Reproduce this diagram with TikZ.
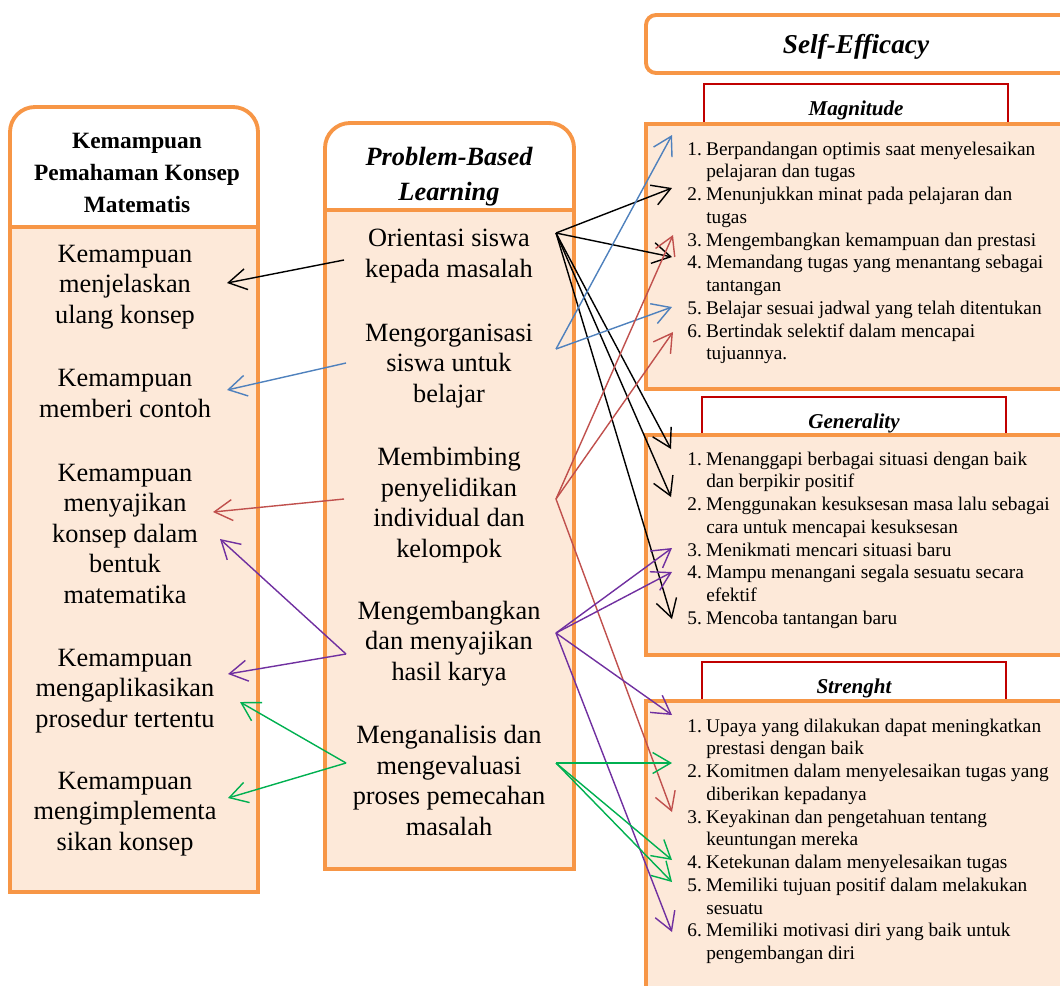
\documentclass[tikz,border=0pt]{standalone}
\usepackage{fontspec}
\setmainfont{Liberation Serif}
\usetikzlibrary{arrows.meta}
\definecolor{boxorange}{HTML}{F79646}
\definecolor{boxfill}{HTML}{FDE9D9}
\definecolor{boxred}{HTML}{C00000}
\definecolor{arrblue}{HTML}{4F81BD}
\definecolor{arrred}{HTML}{C0504D}
\definecolor{arrpurple}{HTML}{7030A0}
\definecolor{arrgreen}{HTML}{00B050}
\begin{document}
\begin{tikzpicture}[x=0.02cm, y=-0.02cm,
    frame/.style={draw=boxorange, line width=2.2pt},
    colitem/.style={align=center, anchor=base, inner sep=0pt, font=\fontsize{15}{17.3}\selectfont},
    listbox/.style={anchor=base west, inner sep=0pt, font=\fontsize{11}{12.95}\selectfont},
    dimbox/.style={draw=boxred, fill=white, line width=1.6pt},
    dimlabel/.style={anchor=base, inner sep=0pt, font=\fontsize{12}{14}\selectfont\bfseries\itshape},
    conn/.style={-{Straight Barb[length=0.36cm, width=0.42cm]}, line width=0.8pt}]
    \useasboundingbox (0,0) rectangle (1060,985);
    \clip (0,0) rectangle (1060,985);
    % left column (nodes sit on their last baseline)
    \fill[boxfill] (10,227) rectangle (258,892);
    \draw[frame] (10,892) [rounded corners=0.5cm] -- (10,107) -- (258,107) [sharp corners] -- (258,892) -- cycle;
    \draw[frame] (10,227) -- (258,227);
    \node[colitem, font=\fontsize{13.3}{18.1}\selectfont\bfseries] (khead) at (137,212) {Kemampuan\\Pemahaman Konsep\\Matematis};
    \node[colitem] (k1) at (125,323) {Kemampuan\\menjelaskan\\ulang konsep};
    \node[colitem] (k2) at (125,417) {Kemampuan\\memberi contoh};
    \node[colitem] (k3) at (125,603) {Kemampuan\\menyajikan\\konsep dalam\\bentuk\\matematika};
    \node[colitem] (k4) at (125,727) {Kemampuan\\mengaplikasikan\\prosedur tertentu};
    \node[colitem] (k5) at (125,850) {Kemampuan\\mengimplementa\\sikan konsep};
    % middle column
    \fill[boxfill] (325,210) rectangle (574,869);
    \draw[frame] (325,869) [rounded corners=0.5cm] -- (325,123) -- (574,123) [sharp corners] -- (574,869) -- cycle;
    \draw[frame] (325,210) -- (574,210);
    \node[colitem, font=\fontsize{15}{19.8}\selectfont\bfseries\itshape] (phead) at (449,200) {Problem-Based\\Learning};
    \node[colitem] (p1) at (449,277) {Orientasi siswa\\kepada masalah};
    \node[colitem] (p2) at (449,402) {Mengorganisasi\\siswa untuk\\belajar};
    \node[colitem] (p3) at (449,557) {Membimbing\\penyelidikan\\individual dan\\kelompok};
    \node[colitem] (p4) at (449,680) {Mengembangkan\\dan menyajikan\\hasil karya};
    \node[colitem] (p5) at (449,835) {Menganalisis dan\\mengevaluasi\\proses pemecahan\\masalah};
    % self-efficacy column
    \draw[frame, fill=white, rounded corners=0.2cm] (646,15) rectangle (1080,73);
    \node[dimlabel, font=\fontsize{15.5}{18}\selectfont\bfseries\itshape] (shead) at (856,53) {Self-Efficacy};
    \draw[dimbox] (704,84) rectangle (1008,130);
    \node[dimlabel] (mag) at (856,115) {Magnitude};
    \draw[frame, fill=boxfill] (646,124) rectangle (1080,389);
    \draw[dimbox] (702,397) rectangle (1006,440);
    \node[dimlabel] (gen) at (854,428) {Generality};
    \draw[frame, fill=boxfill] (646,435) rectangle (1080,655);
    \draw[dimbox] (702,662) rectangle (1006,706);
    \node[dimlabel] (str) at (854,693) {Strenght};
    \draw[frame, fill=boxfill] (646,701) rectangle (1080,1000);
    \node[listbox] (maglist) at (687,155) {\begin{tabular}[t]{@{}r@{\hspace{2.5pt}}l@{}}
        1. & Berpandangan optimis saat menyelesaikan\\
           & pelajaran dan tugas\\
        2. & Menunjukkan minat pada pelajaran dan\\
           & tugas\\
        3. & Mengembangkan kemampuan dan prestasi\\
        4. & Memandang tugas yang menantang sebagai\\
           & tantangan\\
        5. & Belajar sesuai jadwal yang telah ditentukan\\
        6. & Bertindak selektif dalam mencapai\\
           & tujuannya.
    \end{tabular}};
    \node[listbox] (genlist) at (687,465) {\begin{tabular}[t]{@{}r@{\hspace{2.5pt}}l@{}}
        1. & Menanggapi berbagai situasi dengan baik\\
           & dan berpikir positif\\
        2. & Menggunakan kesuksesan masa lalu sebagai\\
           & cara untuk mencapai kesuksesan\\
        3. & Menikmati mencari situasi baru\\
        4. & Mampu menangani segala sesuatu secara\\
           & efektif\\
        5. & Mencoba tantangan baru
    \end{tabular}};
    \node[listbox] (strlist) at (687,732) {\begin{tabular}[t]{@{}r@{\hspace{2.5pt}}l@{}}
        1. & Upaya yang dilakukan dapat meningkatkan\\
           & prestasi dengan baik\\
        2. & Komitmen dalam menyelesaikan tugas yang\\
           & diberikan kepadanya\\
        3. & Keyakinan dan pengetahuan tentang\\
           & keuntungan mereka\\
        4. & Ketekunan dalam menyelesaikan tugas\\
        5. & Memiliki tujuan positif dalam melakukan\\
           & sesuatu\\
        6. & Memiliki motivasi diri yang baik untuk\\
           & pengembangan diri
    \end{tabular}};
    % arrow ends
    \coordinate (p1w) at (344,260);
    \coordinate (p2w) at (346,363);
    \coordinate (p3w) at (344,499);
    \coordinate (p4w) at (346,654);
    \coordinate (p5w) at (346,763);
    \coordinate (p1e) at (556,233);
    \coordinate (p2e) at (556,349);
    \coordinate (p3e) at (556,499);
    \coordinate (p4e) at (556,633);
    \coordinate (p5e) at (556,763);
    \coordinate (k1t) at (227,283);
    \coordinate (k2t) at (227,390);
    \coordinate (k3t) at (213,512);
    \coordinate (k3s) at (220,539);
    \coordinate (k4t) at (228,674);
    \coordinate (k4s) at (240,702);
    \coordinate (k5t) at (228,798);
    \coordinate (ma1) at (672,135);
    \coordinate (ma2) at (672,188);
    \coordinate (ma3) at (673,235);
    \coordinate (ma4) at (672,257);
    \coordinate (ma5) at (672,307);
    \coordinate (ma6) at (673,332);
    \coordinate (ge1) at (671,449);
    \coordinate (ge2) at (671,497);
    \coordinate (ge3) at (672,548);
    \coordinate (ge4) at (672,572);
    \coordinate (ge5) at (672,619);
    \coordinate (st1) at (672,715);
    \coordinate (st2) at (672,763);
    \coordinate (st3) at (672,812);
    \coordinate (st4) at (672,860);
    \coordinate (st5) at (672,882);
    \coordinate (st6) at (672,932);
    % connectors
    \draw[conn] (p1w) -- (k1t);
    \draw[conn, arrblue] (p2w) -- (k2t);
    \draw[conn, arrred] (p3w) -- (k3t);
    \draw[conn, arrpurple] (p4w) -- (k3s);
    \draw[conn, arrpurple] (p4w) -- (k4t);
    \draw[conn, arrgreen] (p5w) -- (k4s);
    \draw[conn, arrgreen] (p5w) -- (k5t);
    \foreach \t in {ma2,ma4,ge1,ge2,ge5}
        \draw[conn] (p1e) -- (\t);
    \foreach \t in {ma1,ma5}
        \draw[conn, arrblue] (p2e) -- (\t);
    \foreach \t in {ma3,ma6,st3}
        \draw[conn, arrred] (p3e) -- (\t);
    \foreach \t in {ge3,ge4,st1,st6}
        \draw[conn, arrpurple] (p4e) -- (\t);
    \foreach \t in {st2,st4,st5}
        \draw[conn, arrgreen] (p5e) -- (\t);
\end{tikzpicture}
\end{document}
